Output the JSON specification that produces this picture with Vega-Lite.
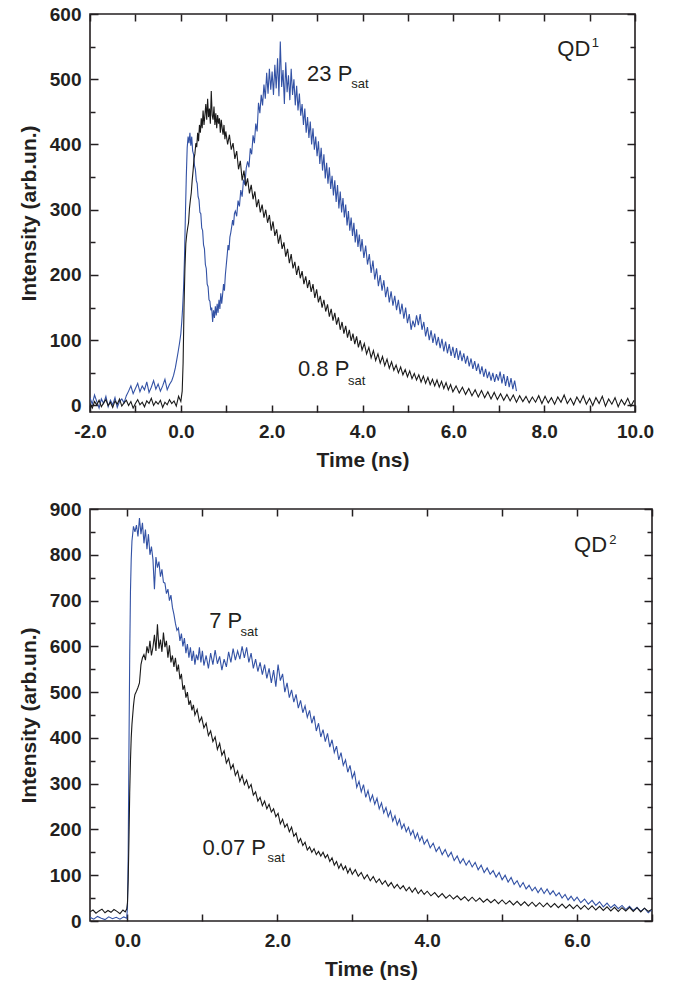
{
"$schema":"https://vega.github.io/schema/vega-lite/v6.json",
"padding":{"left":17,"top":4,"right":5,"bottom":5},
"background":"white",
"config":{
"view":{"stroke":"#231f20","strokeWidth":1.6},
"axis":{"domain":false,"grid":false,"ticks":true,"zindex":1,"labelFont":"Liberation Sans","labelFontWeight":"bold","labelFontSize":19,"labelColor":"#231f20","titleFont":"Liberation Sans","titleFontWeight":"bold","titleFontSize":21,"titleColor":"#231f20","tickColor":"#231f20","tickOpacity":1,"tickWidth":1.5,"labelOverlap":false,"labelFlush":false},
"concat":{"spacing":28}
},
"datasets":{
"q1k":[{"t":-2,"v":3},{"t":-1.95,"v":-4},{"t":-1.9,"v":6},{"t":-1.85,"v":1},{"t":-1.8,"v":8},{"t":-1.75,"v":-2},{"t":-1.7,"v":4},{"t":-1.65,"v":9},{"t":-1.6,"v":0},{"t":-1.55,"v":5},{"t":-1.5,"v":-3},{"t":-1.45,"v":7},{"t":-1.4,"v":2},{"t":-1.35,"v":10},{"t":-1.3,"v":-1},{"t":-1.25,"v":4},{"t":-1.2,"v":8},{"t":-1.15,"v":0},{"t":-1.1,"v":6},{"t":-1.05,"v":-4},{"t":-1,"v":3},{"t":-0.95,"v":9},{"t":-0.9,"v":1},{"t":-0.85,"v":5},{"t":-0.8,"v":-2},{"t":-0.75,"v":7},{"t":-0.7,"v":3},{"t":-0.65,"v":11},{"t":-0.6,"v":0},{"t":-0.55,"v":6},{"t":-0.5,"v":2},{"t":-0.45,"v":8},{"t":-0.4,"v":-3},{"t":-0.35,"v":5},{"t":-0.3,"v":1},{"t":-0.25,"v":9},{"t":-0.2,"v":3},{"t":-0.15,"v":7},{"t":-0.1,"v":-1},{"t":-0.05,"v":14},{"t":0,"v":6},{"t":0.03,"v":22},{"t":0.05,"v":65},{"t":0.07,"v":150},{"t":0.09,"v":210},{"t":0.11,"v":248},{"t":0.13,"v":262},{"t":0.15,"v":272},{"t":0.17,"v":280},{"t":0.19,"v":302},{"t":0.21,"v":315},{"t":0.23,"v":326},{"t":0.25,"v":345},{"t":0.27,"v":360},{"t":0.29,"v":378},{"t":0.31,"v":386},{"t":0.33,"v":402},{"t":0.35,"v":396},{"t":0.37,"v":418},{"t":0.39,"v":405},{"t":0.41,"v":430},{"t":0.43,"v":418},{"t":0.45,"v":440},{"t":0.47,"v":425},{"t":0.49,"v":452},{"t":0.51,"v":430},{"t":0.53,"v":445},{"t":0.55,"v":462},{"t":0.57,"v":438},{"t":0.59,"v":470},{"t":0.61,"v":442},{"t":0.63,"v":455},{"t":0.65,"v":432},{"t":0.67,"v":482},{"t":0.69,"v":445},{"t":0.71,"v":438},{"t":0.73,"v":458},{"t":0.75,"v":430},{"t":0.77,"v":448},{"t":0.79,"v":425},{"t":0.81,"v":445},{"t":0.83,"v":432},{"t":0.85,"v":440},{"t":0.87,"v":418},{"t":0.89,"v":438},{"t":0.91,"v":425},{"t":0.93,"v":415},{"t":0.95,"v":430},{"t":0.97,"v":408},{"t":0.99,"v":420},{"t":1.03,"v":400},{"t":1.07,"v":415},{"t":1.11,"v":392},{"t":1.15,"v":402},{"t":1.19,"v":378},{"t":1.23,"v":390},{"t":1.27,"v":362},{"t":1.31,"v":375},{"t":1.35,"v":345},{"t":1.39,"v":360},{"t":1.43,"v":336},{"t":1.47,"v":348},{"t":1.51,"v":325},{"t":1.55,"v":338},{"t":1.59,"v":316},{"t":1.63,"v":328},{"t":1.67,"v":304},{"t":1.71,"v":316},{"t":1.75,"v":296},{"t":1.79,"v":308},{"t":1.83,"v":288},{"t":1.87,"v":300},{"t":1.91,"v":280},{"t":1.95,"v":292},{"t":1.99,"v":268},{"t":2.03,"v":282},{"t":2.07,"v":260},{"t":2.11,"v":270},{"t":2.15,"v":248},{"t":2.19,"v":262},{"t":2.23,"v":240},{"t":2.27,"v":250},{"t":2.31,"v":228},{"t":2.35,"v":240},{"t":2.39,"v":218},{"t":2.43,"v":232},{"t":2.47,"v":210},{"t":2.51,"v":220},{"t":2.55,"v":200},{"t":2.59,"v":214},{"t":2.63,"v":195},{"t":2.67,"v":206},{"t":2.71,"v":186},{"t":2.75,"v":198},{"t":2.79,"v":180},{"t":2.83,"v":192},{"t":2.87,"v":174},{"t":2.91,"v":186},{"t":2.95,"v":165},{"t":2.99,"v":178},{"t":3.03,"v":158},{"t":3.07,"v":168},{"t":3.11,"v":150},{"t":3.15,"v":162},{"t":3.19,"v":144},{"t":3.23,"v":155},{"t":3.27,"v":136},{"t":3.31,"v":148},{"t":3.35,"v":130},{"t":3.39,"v":142},{"t":3.43,"v":124},{"t":3.47,"v":135},{"t":3.51,"v":116},{"t":3.55,"v":128},{"t":3.59,"v":110},{"t":3.63,"v":122},{"t":3.67,"v":104},{"t":3.71,"v":116},{"t":3.75,"v":99},{"t":3.79,"v":110},{"t":3.83,"v":94},{"t":3.87,"v":106},{"t":3.91,"v":89},{"t":3.95,"v":100},{"t":3.99,"v":85},{"t":4.04,"v":95},{"t":4.09,"v":79},{"t":4.14,"v":89},{"t":4.19,"v":73},{"t":4.24,"v":84},{"t":4.29,"v":69},{"t":4.34,"v":79},{"t":4.39,"v":65},{"t":4.44,"v":75},{"t":4.49,"v":61},{"t":4.54,"v":71},{"t":4.59,"v":57},{"t":4.64,"v":67},{"t":4.69,"v":54},{"t":4.74,"v":62},{"t":4.79,"v":50},{"t":4.84,"v":59},{"t":4.89,"v":47},{"t":4.94,"v":55},{"t":4.99,"v":44},{"t":5.04,"v":53},{"t":5.09,"v":41},{"t":5.14,"v":49},{"t":5.19,"v":39},{"t":5.24,"v":47},{"t":5.29,"v":36},{"t":5.34,"v":45},{"t":5.39,"v":34},{"t":5.44,"v":43},{"t":5.49,"v":32},{"t":5.54,"v":40},{"t":5.59,"v":30},{"t":5.64,"v":39},{"t":5.69,"v":28},{"t":5.74,"v":37},{"t":5.79,"v":26},{"t":5.84,"v":35},{"t":5.89,"v":24},{"t":5.94,"v":32},{"t":5.99,"v":21},{"t":6.06,"v":30},{"t":6.13,"v":19},{"t":6.2,"v":28},{"t":6.27,"v":17},{"t":6.34,"v":26},{"t":6.41,"v":15},{"t":6.48,"v":24},{"t":6.55,"v":13},{"t":6.62,"v":23},{"t":6.69,"v":12},{"t":6.76,"v":21},{"t":6.83,"v":10},{"t":6.9,"v":20},{"t":6.97,"v":9},{"t":7.04,"v":18},{"t":7.11,"v":8},{"t":7.18,"v":17},{"t":7.25,"v":7},{"t":7.32,"v":16},{"t":7.39,"v":5},{"t":7.46,"v":15},{"t":7.53,"v":6},{"t":7.6,"v":14},{"t":7.67,"v":4},{"t":7.74,"v":13},{"t":7.81,"v":5},{"t":7.88,"v":15},{"t":7.95,"v":3},{"t":8.02,"v":14},{"t":8.09,"v":4},{"t":8.16,"v":12},{"t":8.23,"v":2},{"t":8.3,"v":13},{"t":8.37,"v":5},{"t":8.44,"v":16},{"t":8.51,"v":3},{"t":8.58,"v":11},{"t":8.65,"v":1},{"t":8.72,"v":13},{"t":8.79,"v":4},{"t":8.86,"v":15},{"t":8.93,"v":2},{"t":9,"v":11},{"t":9.07,"v":0},{"t":9.14,"v":12},{"t":9.21,"v":3},{"t":9.28,"v":14},{"t":9.35,"v":-1},{"t":9.42,"v":10},{"t":9.49,"v":2},{"t":9.56,"v":12},{"t":9.63,"v":-2},{"t":9.7,"v":9},{"t":9.77,"v":1},{"t":9.84,"v":11},{"t":9.91,"v":-1},{"t":9.98,"v":8}],
"q1b":[{"t":-2,"v":12},{"t":-1.95,"v":2},{"t":-1.9,"v":16},{"t":-1.85,"v":6},{"t":-1.8,"v":-4},{"t":-1.75,"v":10},{"t":-1.7,"v":3},{"t":-1.65,"v":14},{"t":-1.6,"v":-2},{"t":-1.55,"v":8},{"t":-1.5,"v":1},{"t":-1.45,"v":12},{"t":-1.4,"v":-3},{"t":-1.35,"v":6},{"t":-1.3,"v":10},{"t":-1.25,"v":4},{"t":-1.2,"v":15},{"t":-1.15,"v":22},{"t":-1.1,"v":30},{"t":-1.05,"v":18},{"t":-1,"v":26},{"t":-0.95,"v":34},{"t":-0.9,"v":21},{"t":-0.85,"v":30},{"t":-0.8,"v":24},{"t":-0.75,"v":36},{"t":-0.7,"v":20},{"t":-0.65,"v":28},{"t":-0.6,"v":38},{"t":-0.55,"v":25},{"t":-0.5,"v":33},{"t":-0.45,"v":22},{"t":-0.4,"v":30},{"t":-0.35,"v":40},{"t":-0.3,"v":24},{"t":-0.25,"v":32},{"t":-0.2,"v":38},{"t":-0.16,"v":46},{"t":-0.12,"v":58},{"t":-0.09,"v":70},{"t":-0.06,"v":82},{"t":-0.03,"v":95},{"t":0,"v":110},{"t":0.02,"v":128},{"t":0.04,"v":150},{"t":0.06,"v":180},{"t":0.08,"v":225},{"t":0.1,"v":290},{"t":0.12,"v":350},{"t":0.14,"v":395},{"t":0.16,"v":412},{"t":0.18,"v":402},{"t":0.2,"v":418},{"t":0.22,"v":398},{"t":0.24,"v":412},{"t":0.26,"v":390},{"t":0.28,"v":385},{"t":0.3,"v":368},{"t":0.32,"v":362},{"t":0.34,"v":345},{"t":0.36,"v":340},{"t":0.38,"v":320},{"t":0.4,"v":315},{"t":0.42,"v":296},{"t":0.44,"v":294},{"t":0.46,"v":272},{"t":0.48,"v":268},{"t":0.5,"v":246},{"t":0.52,"v":240},{"t":0.54,"v":216},{"t":0.56,"v":210},{"t":0.58,"v":186},{"t":0.6,"v":182},{"t":0.62,"v":162},{"t":0.64,"v":160},{"t":0.66,"v":146},{"t":0.68,"v":150},{"t":0.7,"v":128},{"t":0.72,"v":146},{"t":0.74,"v":134},{"t":0.76,"v":152},{"t":0.78,"v":138},{"t":0.8,"v":156},{"t":0.82,"v":142},{"t":0.84,"v":162},{"t":0.86,"v":148},{"t":0.88,"v":172},{"t":0.9,"v":156},{"t":0.92,"v":170},{"t":0.94,"v":186},{"t":0.96,"v":176},{"t":0.98,"v":200},{"t":1,"v":215},{"t":1.02,"v":230},{"t":1.04,"v":246},{"t":1.06,"v":238},{"t":1.08,"v":258},{"t":1.1,"v":265},{"t":1.12,"v":274},{"t":1.14,"v":284},{"t":1.16,"v":276},{"t":1.18,"v":294},{"t":1.2,"v":298},{"t":1.23,"v":290},{"t":1.26,"v":314},{"t":1.29,"v":305},{"t":1.32,"v":330},{"t":1.35,"v":320},{"t":1.38,"v":346},{"t":1.41,"v":338},{"t":1.44,"v":364},{"t":1.47,"v":374},{"t":1.5,"v":365},{"t":1.53,"v":394},{"t":1.56,"v":385},{"t":1.59,"v":414},{"t":1.62,"v":402},{"t":1.65,"v":432},{"t":1.68,"v":420},{"t":1.71,"v":464},{"t":1.74,"v":448},{"t":1.77,"v":476},{"t":1.8,"v":460},{"t":1.83,"v":492},{"t":1.86,"v":470},{"t":1.89,"v":510},{"t":1.92,"v":478},{"t":1.95,"v":516},{"t":1.98,"v":484},{"t":2.01,"v":512},{"t":2.04,"v":476},{"t":2.07,"v":522},{"t":2.1,"v":486},{"t":2.13,"v":532},{"t":2.16,"v":474},{"t":2.19,"v":558},{"t":2.22,"v":488},{"t":2.25,"v":514},{"t":2.28,"v":462},{"t":2.31,"v":526},{"t":2.34,"v":480},{"t":2.37,"v":506},{"t":2.4,"v":468},{"t":2.43,"v":516},{"t":2.46,"v":476},{"t":2.49,"v":500},{"t":2.52,"v":460},{"t":2.55,"v":490},{"t":2.58,"v":452},{"t":2.61,"v":478},{"t":2.64,"v":444},{"t":2.67,"v":462},{"t":2.7,"v":430},{"t":2.73,"v":455},{"t":2.76,"v":418},{"t":2.79,"v":442},{"t":2.82,"v":410},{"t":2.85,"v":435},{"t":2.88,"v":400},{"t":2.91,"v":425},{"t":2.94,"v":392},{"t":2.97,"v":412},{"t":3,"v":382},{"t":3.03,"v":405},{"t":3.06,"v":370},{"t":3.09,"v":395},{"t":3.12,"v":360},{"t":3.15,"v":385},{"t":3.18,"v":348},{"t":3.21,"v":372},{"t":3.24,"v":340},{"t":3.27,"v":365},{"t":3.3,"v":332},{"t":3.33,"v":352},{"t":3.36,"v":322},{"t":3.39,"v":345},{"t":3.42,"v":312},{"t":3.45,"v":338},{"t":3.48,"v":302},{"t":3.51,"v":328},{"t":3.54,"v":296},{"t":3.57,"v":318},{"t":3.6,"v":288},{"t":3.63,"v":308},{"t":3.66,"v":276},{"t":3.69,"v":298},{"t":3.72,"v":268},{"t":3.75,"v":288},{"t":3.78,"v":260},{"t":3.81,"v":280},{"t":3.84,"v":250},{"t":3.87,"v":270},{"t":3.9,"v":243},{"t":3.93,"v":262},{"t":3.96,"v":236},{"t":3.99,"v":255},{"t":4.03,"v":226},{"t":4.07,"v":245},{"t":4.11,"v":216},{"t":4.15,"v":232},{"t":4.19,"v":203},{"t":4.23,"v":222},{"t":4.27,"v":193},{"t":4.31,"v":210},{"t":4.35,"v":183},{"t":4.39,"v":200},{"t":4.43,"v":176},{"t":4.47,"v":192},{"t":4.51,"v":166},{"t":4.55,"v":182},{"t":4.59,"v":158},{"t":4.63,"v":175},{"t":4.67,"v":153},{"t":4.71,"v":168},{"t":4.75,"v":146},{"t":4.79,"v":162},{"t":4.83,"v":140},{"t":4.87,"v":156},{"t":4.91,"v":133},{"t":4.95,"v":150},{"t":4.99,"v":126},{"t":5.03,"v":140},{"t":5.07,"v":116},{"t":5.11,"v":130},{"t":5.15,"v":120},{"t":5.19,"v":138},{"t":5.23,"v":123},{"t":5.27,"v":140},{"t":5.31,"v":116},{"t":5.35,"v":128},{"t":5.39,"v":106},{"t":5.43,"v":120},{"t":5.47,"v":100},{"t":5.51,"v":115},{"t":5.55,"v":96},{"t":5.59,"v":110},{"t":5.63,"v":92},{"t":5.67,"v":105},{"t":5.71,"v":88},{"t":5.75,"v":102},{"t":5.79,"v":83},{"t":5.83,"v":98},{"t":5.87,"v":80},{"t":5.91,"v":94},{"t":5.95,"v":76},{"t":5.99,"v":90},{"t":6.03,"v":73},{"t":6.07,"v":88},{"t":6.11,"v":70},{"t":6.15,"v":84},{"t":6.19,"v":68},{"t":6.23,"v":80},{"t":6.27,"v":64},{"t":6.31,"v":76},{"t":6.35,"v":60},{"t":6.39,"v":72},{"t":6.43,"v":56},{"t":6.47,"v":68},{"t":6.51,"v":53},{"t":6.55,"v":64},{"t":6.59,"v":48},{"t":6.63,"v":60},{"t":6.67,"v":44},{"t":6.71,"v":56},{"t":6.75,"v":42},{"t":6.79,"v":52},{"t":6.83,"v":38},{"t":6.87,"v":50},{"t":6.91,"v":36},{"t":6.95,"v":48},{"t":6.99,"v":38},{"t":7.03,"v":52},{"t":7.07,"v":34},{"t":7.11,"v":48},{"t":7.15,"v":30},{"t":7.19,"v":45},{"t":7.23,"v":28},{"t":7.27,"v":42},{"t":7.31,"v":25},{"t":7.35,"v":38},{"t":7.39,"v":22}],
"q2k":[{"t":-0.5,"v":20},{"t":-0.46,"v":24},{"t":-0.42,"v":17},{"t":-0.38,"v":22},{"t":-0.34,"v":26},{"t":-0.3,"v":18},{"t":-0.26,"v":23},{"t":-0.22,"v":19},{"t":-0.18,"v":25},{"t":-0.14,"v":21},{"t":-0.1,"v":16},{"t":-0.06,"v":24},{"t":-0.03,"v":20},{"t":-0.01,"v":26},{"t":0,"v":40},{"t":0.01,"v":90},{"t":0.02,"v":180},{"t":0.03,"v":280},{"t":0.04,"v":350},{"t":0.05,"v":400},{"t":0.06,"v":430},{"t":0.07,"v":450},{"t":0.08,"v":470},{"t":0.09,"v":485},{"t":0.1,"v":495},{"t":0.12,"v":502},{"t":0.14,"v":510},{"t":0.16,"v":520},{"t":0.18,"v":560},{"t":0.2,"v":575},{"t":0.22,"v":582},{"t":0.24,"v":570},{"t":0.26,"v":600},{"t":0.28,"v":585},{"t":0.3,"v":612},{"t":0.32,"v":580},{"t":0.34,"v":598},{"t":0.36,"v":625},{"t":0.38,"v":590},{"t":0.4,"v":648},{"t":0.42,"v":595},{"t":0.44,"v":615},{"t":0.46,"v":588},{"t":0.48,"v":630},{"t":0.5,"v":598},{"t":0.52,"v":612},{"t":0.54,"v":575},{"t":0.56,"v":602},{"t":0.58,"v":565},{"t":0.6,"v":580},{"t":0.62,"v":555},{"t":0.64,"v":575},{"t":0.66,"v":545},{"t":0.68,"v":560},{"t":0.7,"v":528},{"t":0.72,"v":540},{"t":0.74,"v":505},{"t":0.76,"v":515},{"t":0.78,"v":488},{"t":0.8,"v":500},{"t":0.82,"v":472},{"t":0.84,"v":482},{"t":0.86,"v":460},{"t":0.88,"v":472},{"t":0.9,"v":450},{"t":0.93,"v":462},{"t":0.96,"v":435},{"t":0.99,"v":445},{"t":1.02,"v":422},{"t":1.05,"v":432},{"t":1.08,"v":405},{"t":1.11,"v":415},{"t":1.14,"v":392},{"t":1.17,"v":402},{"t":1.2,"v":375},{"t":1.23,"v":388},{"t":1.26,"v":362},{"t":1.29,"v":372},{"t":1.32,"v":345},{"t":1.35,"v":355},{"t":1.38,"v":332},{"t":1.41,"v":342},{"t":1.44,"v":318},{"t":1.47,"v":328},{"t":1.5,"v":305},{"t":1.53,"v":318},{"t":1.56,"v":298},{"t":1.59,"v":308},{"t":1.62,"v":290},{"t":1.65,"v":298},{"t":1.68,"v":275},{"t":1.71,"v":282},{"t":1.74,"v":262},{"t":1.77,"v":270},{"t":1.8,"v":252},{"t":1.83,"v":262},{"t":1.86,"v":245},{"t":1.89,"v":255},{"t":1.92,"v":238},{"t":1.95,"v":245},{"t":1.98,"v":228},{"t":2.01,"v":235},{"t":2.04,"v":212},{"t":2.07,"v":222},{"t":2.1,"v":205},{"t":2.13,"v":212},{"t":2.16,"v":195},{"t":2.19,"v":205},{"t":2.22,"v":185},{"t":2.25,"v":192},{"t":2.28,"v":172},{"t":2.31,"v":180},{"t":2.34,"v":165},{"t":2.37,"v":172},{"t":2.4,"v":155},{"t":2.43,"v":162},{"t":2.46,"v":150},{"t":2.49,"v":158},{"t":2.52,"v":145},{"t":2.55,"v":152},{"t":2.58,"v":142},{"t":2.61,"v":150},{"t":2.64,"v":138},{"t":2.67,"v":145},{"t":2.7,"v":130},{"t":2.73,"v":138},{"t":2.76,"v":122},{"t":2.79,"v":130},{"t":2.82,"v":115},{"t":2.85,"v":125},{"t":2.88,"v":112},{"t":2.91,"v":120},{"t":2.94,"v":105},{"t":2.97,"v":115},{"t":3,"v":102},{"t":3.04,"v":112},{"t":3.08,"v":98},{"t":3.12,"v":106},{"t":3.16,"v":92},{"t":3.2,"v":101},{"t":3.24,"v":88},{"t":3.28,"v":97},{"t":3.32,"v":84},{"t":3.36,"v":92},{"t":3.4,"v":80},{"t":3.44,"v":88},{"t":3.48,"v":76},{"t":3.52,"v":84},{"t":3.56,"v":72},{"t":3.6,"v":80},{"t":3.64,"v":70},{"t":3.68,"v":77},{"t":3.72,"v":66},{"t":3.76,"v":74},{"t":3.8,"v":63},{"t":3.84,"v":72},{"t":3.88,"v":60},{"t":3.92,"v":68},{"t":3.96,"v":58},{"t":4,"v":65},{"t":4.05,"v":55},{"t":4.1,"v":62},{"t":4.15,"v":52},{"t":4.2,"v":60},{"t":4.25,"v":50},{"t":4.3,"v":57},{"t":4.35,"v":48},{"t":4.4,"v":55},{"t":4.45,"v":46},{"t":4.5,"v":53},{"t":4.55,"v":44},{"t":4.6,"v":52},{"t":4.65,"v":43},{"t":4.7,"v":50},{"t":4.75,"v":41},{"t":4.8,"v":48},{"t":4.85,"v":40},{"t":4.9,"v":47},{"t":4.95,"v":38},{"t":5,"v":46},{"t":5.05,"v":37},{"t":5.1,"v":44},{"t":5.15,"v":35},{"t":5.2,"v":43},{"t":5.25,"v":34},{"t":5.3,"v":42},{"t":5.35,"v":33},{"t":5.4,"v":41},{"t":5.45,"v":32},{"t":5.5,"v":40},{"t":5.55,"v":31},{"t":5.6,"v":39},{"t":5.65,"v":30},{"t":5.7,"v":38},{"t":5.75,"v":29},{"t":5.8,"v":37},{"t":5.85,"v":28},{"t":5.9,"v":36},{"t":5.95,"v":27},{"t":6,"v":35},{"t":6.05,"v":26},{"t":6.1,"v":34},{"t":6.15,"v":25},{"t":6.2,"v":33},{"t":6.25,"v":24},{"t":6.3,"v":32},{"t":6.35,"v":23},{"t":6.4,"v":31},{"t":6.45,"v":22},{"t":6.5,"v":30},{"t":6.55,"v":21},{"t":6.6,"v":29},{"t":6.65,"v":22},{"t":6.7,"v":30},{"t":6.75,"v":21},{"t":6.8,"v":29},{"t":6.85,"v":20},{"t":6.9,"v":28},{"t":6.95,"v":21},{"t":7,"v":26}],
"q2b":[{"t":-0.5,"v":8},{"t":-0.45,"v":4},{"t":-0.4,"v":10},{"t":-0.35,"v":6},{"t":-0.3,"v":3},{"t":-0.25,"v":9},{"t":-0.2,"v":5},{"t":-0.15,"v":8},{"t":-0.1,"v":4},{"t":-0.05,"v":9},{"t":-0.01,"v":6},{"t":0,"v":30},{"t":0.01,"v":150},{"t":0.02,"v":380},{"t":0.03,"v":580},{"t":0.04,"v":720},{"t":0.05,"v":790},{"t":0.06,"v":830},{"t":0.08,"v":862},{"t":0.1,"v":850},{"t":0.12,"v":865},{"t":0.14,"v":840},{"t":0.16,"v":880},{"t":0.18,"v":845},{"t":0.2,"v":870},{"t":0.22,"v":825},{"t":0.24,"v":855},{"t":0.26,"v":812},{"t":0.28,"v":845},{"t":0.3,"v":800},{"t":0.32,"v":818},{"t":0.34,"v":790},{"t":0.36,"v":725},{"t":0.38,"v":795},{"t":0.4,"v":772},{"t":0.42,"v":785},{"t":0.44,"v":752},{"t":0.46,"v":768},{"t":0.48,"v":740},{"t":0.5,"v":738},{"t":0.52,"v":715},{"t":0.54,"v":725},{"t":0.56,"v":700},{"t":0.58,"v":712},{"t":0.6,"v":685},{"t":0.62,"v":670},{"t":0.64,"v":650},{"t":0.66,"v":635},{"t":0.68,"v":640},{"t":0.7,"v":612},{"t":0.72,"v":628},{"t":0.74,"v":600},{"t":0.76,"v":618},{"t":0.78,"v":585},{"t":0.8,"v":605},{"t":0.82,"v":575},{"t":0.84,"v":598},{"t":0.86,"v":568},{"t":0.88,"v":590},{"t":0.9,"v":560},{"t":0.92,"v":582},{"t":0.94,"v":570},{"t":0.96,"v":598},{"t":0.98,"v":565},{"t":1,"v":590},{"t":1.02,"v":558},{"t":1.05,"v":580},{"t":1.08,"v":552},{"t":1.11,"v":585},{"t":1.14,"v":560},{"t":1.17,"v":592},{"t":1.2,"v":562},{"t":1.23,"v":578},{"t":1.26,"v":548},{"t":1.29,"v":572},{"t":1.32,"v":555},{"t":1.35,"v":588},{"t":1.38,"v":565},{"t":1.41,"v":595},{"t":1.44,"v":570},{"t":1.47,"v":590},{"t":1.5,"v":572},{"t":1.53,"v":600},{"t":1.56,"v":575},{"t":1.59,"v":598},{"t":1.62,"v":565},{"t":1.65,"v":585},{"t":1.68,"v":552},{"t":1.71,"v":572},{"t":1.74,"v":545},{"t":1.77,"v":565},{"t":1.8,"v":538},{"t":1.83,"v":560},{"t":1.86,"v":530},{"t":1.89,"v":552},{"t":1.92,"v":520},{"t":1.95,"v":548},{"t":1.98,"v":512},{"t":2.01,"v":560},{"t":2.04,"v":525},{"t":2.07,"v":540},{"t":2.1,"v":500},{"t":2.13,"v":520},{"t":2.16,"v":488},{"t":2.19,"v":505},{"t":2.22,"v":478},{"t":2.25,"v":495},{"t":2.28,"v":465},{"t":2.31,"v":482},{"t":2.34,"v":455},{"t":2.37,"v":470},{"t":2.4,"v":445},{"t":2.43,"v":460},{"t":2.46,"v":432},{"t":2.49,"v":448},{"t":2.52,"v":415},{"t":2.55,"v":432},{"t":2.58,"v":402},{"t":2.61,"v":418},{"t":2.64,"v":392},{"t":2.67,"v":410},{"t":2.7,"v":380},{"t":2.73,"v":396},{"t":2.76,"v":368},{"t":2.79,"v":382},{"t":2.82,"v":352},{"t":2.85,"v":368},{"t":2.88,"v":340},{"t":2.91,"v":352},{"t":2.94,"v":325},{"t":2.97,"v":340},{"t":3,"v":312},{"t":3.03,"v":325},{"t":3.06,"v":292},{"t":3.09,"v":305},{"t":3.12,"v":282},{"t":3.15,"v":298},{"t":3.18,"v":270},{"t":3.21,"v":285},{"t":3.24,"v":262},{"t":3.27,"v":275},{"t":3.3,"v":255},{"t":3.33,"v":268},{"t":3.36,"v":245},{"t":3.39,"v":258},{"t":3.42,"v":236},{"t":3.45,"v":248},{"t":3.48,"v":228},{"t":3.51,"v":240},{"t":3.54,"v":218},{"t":3.57,"v":230},{"t":3.6,"v":210},{"t":3.63,"v":222},{"t":3.66,"v":202},{"t":3.69,"v":212},{"t":3.72,"v":195},{"t":3.75,"v":205},{"t":3.78,"v":188},{"t":3.81,"v":198},{"t":3.84,"v":180},{"t":3.87,"v":192},{"t":3.9,"v":175},{"t":3.93,"v":185},{"t":3.96,"v":168},{"t":4,"v":178},{"t":4.04,"v":160},{"t":4.08,"v":170},{"t":4.12,"v":152},{"t":4.16,"v":162},{"t":4.2,"v":145},{"t":4.24,"v":156},{"t":4.28,"v":140},{"t":4.32,"v":150},{"t":4.36,"v":132},{"t":4.4,"v":142},{"t":4.44,"v":126},{"t":4.48,"v":136},{"t":4.52,"v":122},{"t":4.56,"v":132},{"t":4.6,"v":118},{"t":4.64,"v":128},{"t":4.68,"v":112},{"t":4.72,"v":122},{"t":4.76,"v":106},{"t":4.8,"v":116},{"t":4.84,"v":102},{"t":4.88,"v":110},{"t":4.92,"v":96},{"t":4.96,"v":106},{"t":5,"v":90},{"t":5.04,"v":100},{"t":5.08,"v":85},{"t":5.12,"v":95},{"t":5.16,"v":80},{"t":5.2,"v":88},{"t":5.24,"v":74},{"t":5.28,"v":84},{"t":5.32,"v":70},{"t":5.36,"v":78},{"t":5.4,"v":66},{"t":5.44,"v":74},{"t":5.48,"v":62},{"t":5.52,"v":72},{"t":5.56,"v":60},{"t":5.6,"v":70},{"t":5.64,"v":58},{"t":5.68,"v":66},{"t":5.72,"v":55},{"t":5.76,"v":62},{"t":5.8,"v":50},{"t":5.84,"v":58},{"t":5.88,"v":46},{"t":5.92,"v":54},{"t":5.96,"v":44},{"t":6,"v":52},{"t":6.05,"v":40},{"t":6.1,"v":48},{"t":6.15,"v":37},{"t":6.2,"v":45},{"t":6.25,"v":34},{"t":6.3,"v":42},{"t":6.35,"v":31},{"t":6.4,"v":39},{"t":6.45,"v":29},{"t":6.5,"v":36},{"t":6.55,"v":27},{"t":6.6,"v":34},{"t":6.65,"v":25},{"t":6.7,"v":32},{"t":6.75,"v":23},{"t":6.8,"v":30},{"t":6.85,"v":21},{"t":6.9,"v":28},{"t":6.95,"v":18},{"t":7,"v":25}],
"q1lab":[{"t":2.78,"v":498,"txt":"23 P"},{"t":2.58,"v":45,"txt":"0.8 P"},{"t":8.29,"v":535,"txt":"QD"}],
"q1sub":[{"t":3.75,"v":487,"txt":"sat"},{"t":3.68,"v":32,"txt":"sat"},{"t":9.05,"v":550,"txt":"1"}],
"q2lab":[{"t":1.09,"v":640,"txt":"7 P"},{"t":1.0,"v":145,"txt":"0.07 P"},{"t":5.96,"v":805,"txt":"QD"}],
"q2sub":[{"t":1.51,"v":623,"txt":"sat"},{"t":1.87,"v":129,"txt":"sat"},{"t":6.43,"v":823,"txt":"2"}]
},
"vconcat":[
{
"width":545,"height":398,
"resolve":{"axis":{"x":"independent","y":"independent"}},
"layer":[
{"data":{"name":"q1b"},"mark":{"type":"line","color":"#3352a5","strokeWidth":1.1,"clip":true},
"encoding":{
"x":{"field":"t","type":"quantitative","scale":{"domain":[-2,10],"nice":false,"zero":false},
"axis":{"orient":"bottom","values":[-2,-1,0,1,2,3,4,5,6,7,8,9,10],"labelExpr":"datum.value % 2 === 0 ? replace(format(datum.value, '.1f'), '\u2212', '-') : ''","tickSize":-7,"labelPadding":17,"title":"Time (ns)","titlePadding":8}},
"y":{"field":"v","type":"quantitative","scale":{"domain":[-10,600],"nice":false,"zero":false},
"axis":{"orient":"left","values":[0,50,100,150,200,250,300,350,400,450,500,550,600],"labelExpr":"datum.value % 100 === 0 ? datum.label : ''","tickSize":{"condition":{"test":"datum.value % 100 === 0","value":-8},"value":-5},"labelPadding":17,"title":"Intensity (arb.un.)","titlePadding":10}}}},
{"data":{"name":"q1k"},"mark":{"type":"line","color":"#1a1a1a","strokeWidth":1.1,"clip":true},
"encoding":{
"x":{"field":"t","type":"quantitative","axis":{"orient":"top","values":[-2,-1,0,1,2,3,4,5,6,7,8,9,10],"labels":false,"title":null,"tickSize":-7}},
"y":{"field":"v","type":"quantitative","axis":{"orient":"right","values":[0,50,100,150,200,250,300,350,400,450,500,550,600],"labels":false,"title":null,"tickSize":{"condition":{"test":"datum.value % 100 === 0","value":-8},"value":-5}}}}},
{"data":{"name":"q1lab"},"mark":{"type":"text","align":"left","baseline":"alphabetic","font":"Liberation Sans","fontSize":22,"color":"#231f20"},
"encoding":{"x":{"field":"t","type":"quantitative","axis":null},"y":{"field":"v","type":"quantitative","axis":null},"text":{"field":"txt"}}},
{"data":{"name":"q1sub"},"mark":{"type":"text","align":"left","baseline":"alphabetic","font":"Liberation Sans","fontSize":13,"color":"#231f20"},
"encoding":{"x":{"field":"t","type":"quantitative","axis":null},"y":{"field":"v","type":"quantitative","axis":null},"text":{"field":"txt"}}}
]
},
{
"width":562,"height":412,
"resolve":{"axis":{"x":"independent","y":"independent"}},
"layer":[
{"data":{"name":"q2b"},"mark":{"type":"line","color":"#3352a5","strokeWidth":1.1,"clip":true},
"encoding":{
"x":{"field":"t","type":"quantitative","scale":{"domain":[-0.5,7],"nice":false,"zero":false},
"axis":{"orient":"bottom","values":[0,1,2,3,4,5,6,7],"labelExpr":"datum.value % 2 === 0 ? format(datum.value, '.1f') : ''","tickSize":-7,"labelPadding":17,"title":"Time (ns)","titlePadding":8}},
"y":{"field":"v","type":"quantitative","scale":{"domain":[0,900],"nice":false,"zero":false},
"axis":{"orient":"left","values":[0,50,100,150,200,250,300,350,400,450,500,550,600,650,700,750,800,850,900],"labelExpr":"datum.value % 100 === 0 ? datum.label : ''","tickSize":{"condition":{"test":"datum.value % 100 === 0","value":-8},"value":-5},"labelPadding":17,"title":"Intensity (arb.un.)","titlePadding":10}}}},
{"data":{"name":"q2k"},"mark":{"type":"line","color":"#1a1a1a","strokeWidth":1.1,"clip":true},
"encoding":{
"x":{"field":"t","type":"quantitative","axis":{"orient":"top","values":[0,1,2,3,4,5,6,7],"labels":false,"title":null,"tickSize":-7}},
"y":{"field":"v","type":"quantitative","axis":{"orient":"right","values":[0,50,100,150,200,250,300,350,400,450,500,550,600,650,700,750,800,850,900],"labels":false,"title":null,"tickSize":{"condition":{"test":"datum.value % 100 === 0","value":-8},"value":-5}}}}},
{"data":{"name":"q2lab"},"mark":{"type":"text","align":"left","baseline":"alphabetic","font":"Liberation Sans","fontSize":22,"color":"#231f20"},
"encoding":{"x":{"field":"t","type":"quantitative","axis":null},"y":{"field":"v","type":"quantitative","axis":null},"text":{"field":"txt"}}},
{"data":{"name":"q2sub"},"mark":{"type":"text","align":"left","baseline":"alphabetic","font":"Liberation Sans","fontSize":13,"color":"#231f20"},
"encoding":{"x":{"field":"t","type":"quantitative","axis":null},"y":{"field":"v","type":"quantitative","axis":null},"text":{"field":"txt"}}}
]
}
]
}
